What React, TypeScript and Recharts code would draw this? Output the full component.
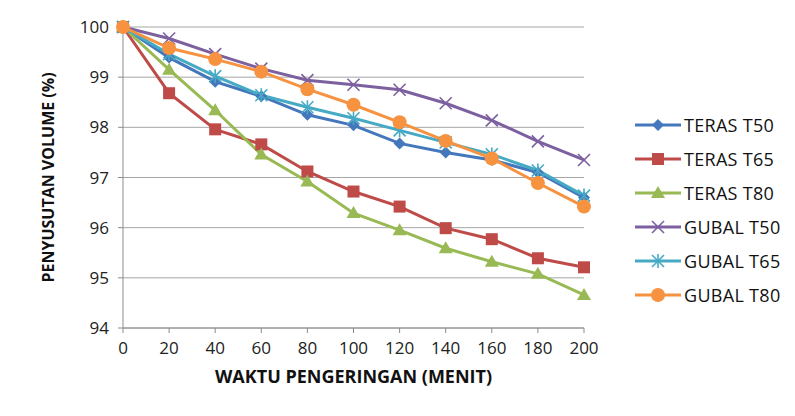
import React from "react";
import { LineChart, Line, XAxis, YAxis, CartesianGrid } from "recharts";

const TIMES = [0, 20, 40, 60, 80, 100, 120, 140, 160, 180, 200];
const Y_TICKS = [94, 95, 96, 97, 98, 99, 100];

const terasT50 = [100, 99.39, 98.91, 98.62, 98.25, 98.04, 97.68, 97.5, 97.35, 97.1, 96.6];
const terasT65 = [100, 98.68, 97.96, 97.66, 97.12, 96.72, 96.42, 95.99, 95.77, 95.39, 95.21];
const terasT80 = [100, 99.15, 98.34, 97.46, 96.92, 96.29, 95.95, 95.59, 95.32, 95.08, 94.66];
const gubalT50 = [100, 99.77, 99.46, 99.17, 98.94, 98.85, 98.75, 98.48, 98.14, 97.72, 97.35];
const gubalT65 = [100, 99.46, 99.02, 98.64, 98.4, 98.18, 97.94, 97.7, 97.46, 97.14, 96.64];
const gubalT80 = [100, 99.58, 99.36, 99.11, 98.76, 98.45, 98.1, 97.73, 97.38, 96.89, 96.42];

type Marker = "diamond" | "square" | "triangle" | "x" | "star" | "circle";

const SERIES: { key: string; name: string; color: string; marker: Marker; values: number[] }[] = [
  { key: "t50", name: "TERAS T50", color: "#4477BB", marker: "diamond", values: terasT50 },
  { key: "t65", name: "TERAS T65", color: "#BE4B48", marker: "square", values: terasT65 },
  { key: "t80", name: "TERAS T80", color: "#98B954", marker: "triangle", values: terasT80 },
  { key: "g50", name: "GUBAL T50", color: "#7D60A0", marker: "x", values: gubalT50 },
  { key: "g65", name: "GUBAL T65", color: "#46AAC5", marker: "star", values: gubalT65 },
  { key: "g80", name: "GUBAL T80", color: "#F69240", marker: "circle", values: gubalT80 },
];

const data = TIMES.map((t, i) => {
  const row: Record<string, number> = { t };
  SERIES.forEach((s) => (row[s.key] = s.values[i]));
  return row;
});

const FONT = "'Open Sans', sans-serif";

function MarkerShape({ type, cx, cy, color }: { type: Marker; cx: number; cy: number; color: string }) {
  switch (type) {
    case "diamond":
      return <polygon points={`${cx},${cy - 6} ${cx + 6},${cy} ${cx},${cy + 6} ${cx - 6},${cy}`} fill={color} />;
    case "square":
      return <rect x={cx - 6} y={cy - 6} width={12} height={12} fill={color} />;
    case "triangle":
      return <polygon points={`${cx},${cy - 7} ${cx + 7},${cy + 5} ${cx - 7},${cy + 5}`} fill={color} />;
    case "x":
      return (
        <g stroke={color} strokeWidth={1.6}>
          <line x1={cx - 6} y1={cy - 6} x2={cx + 6} y2={cy + 6} />
          <line x1={cx - 6} y1={cy + 6} x2={cx + 6} y2={cy - 6} />
        </g>
      );
    case "star":
      return (
        <g stroke={color} strokeWidth={1.6}>
          <line x1={cx - 6} y1={cy - 6} x2={cx + 6} y2={cy + 6} />
          <line x1={cx - 6} y1={cy + 6} x2={cx + 6} y2={cy - 6} />
          <line x1={cx} y1={cy - 7} x2={cx} y2={cy + 7} />
        </g>
      );
    default:
      return <circle cx={cx} cy={cy} r={7} fill={color} />;
  }
}

const makeDot = (type: Marker, color: string) => (props: any) => (
  <g key={`${type}-${props.index}`}>
    <MarkerShape type={type} cx={props.cx} cy={props.cy} color={color} />
  </g>
);

export default function App() {
  return (
    <div style={{ position: "relative", width: 795, height: 416, margin: -8, background: "#fff", overflow: "hidden" }}>
      {/* frame */}
      <div
        style={{
          position: "absolute",
          left: 6,
          top: 3,
          width: 820,
          height: 409,
          borderLeft: "2px solid #8a8a8a",
          borderTop: "2px solid #8a8a8a",
          borderBottom: "1px solid #d4d4d4",
        }}
      />
      <div style={{ position: "absolute", left: 0, top: 0 }}>
        <LineChart width={795} height={416} data={data} margin={{ top: 27, right: 211, left: 63, bottom: 58 }}>
          <CartesianGrid vertical={false} stroke="#a6a6a6" strokeWidth={1} />
          <XAxis
            dataKey="t"
            type="number"
            domain={[0, 200]}
            ticks={TIMES}
            interval={0}
            height={30}
            tickSize={5}
            tickMargin={9}
            stroke="#8c8c8c"
            tick={{ fill: "#222", fontSize: 17, fontFamily: FONT }}
            label={{
              value: "WAKTU PENGERINGAN (MENIT)",
              position: "bottom",
              offset: 12,
              fill: "#111",
              fontSize: 18,
              fontWeight: 700,
              fontFamily: FONT,
            }}
          />
          <YAxis
            type="number"
            domain={[94, 100]}
            ticks={Y_TICKS}
            interval={0}
            width={60}
            tickSize={5}
            tickMargin={9}
            stroke="#8c8c8c"
            tick={{ fill: "#222", fontSize: 17, fontFamily: FONT }}
            label={{
              value: "PENYUSUTAN VOLUME (%)",
              angle: -90,
              position: "center",
              dx: -45,
              fill: "#111",
              fontSize: 16,
              fontWeight: 700,
              fontFamily: FONT,
            }}
          />
          {SERIES.map((s) => (
            <Line
              key={s.key}
              dataKey={s.key}
              name={s.name}
              stroke={s.color}
              strokeWidth={3}
              dot={makeDot(s.marker, s.color)}
              activeDot={false}
              isAnimationActive={false}
            />
          ))}
        </LineChart>
      </div>
      {/* legend */}
      <div style={{ position: "absolute", left: 634, top: 108, fontFamily: FONT }}>
        {SERIES.map((s) => (
          <div key={s.key} style={{ display: "flex", alignItems: "center", height: 34 }}>
            <svg width={48} height={20}>
              <line x1={1} y1={10} x2={47} y2={10} stroke={s.color} strokeWidth={3} />
              <MarkerShape type={s.marker} cx={24} cy={10} color={s.color} />
            </svg>
            <span style={{ fontSize: 18, color: "#111", marginLeft: 2, letterSpacing: 0.3 }}>{s.name}</span>
          </div>
        ))}
      </div>
    </div>
  );
}
